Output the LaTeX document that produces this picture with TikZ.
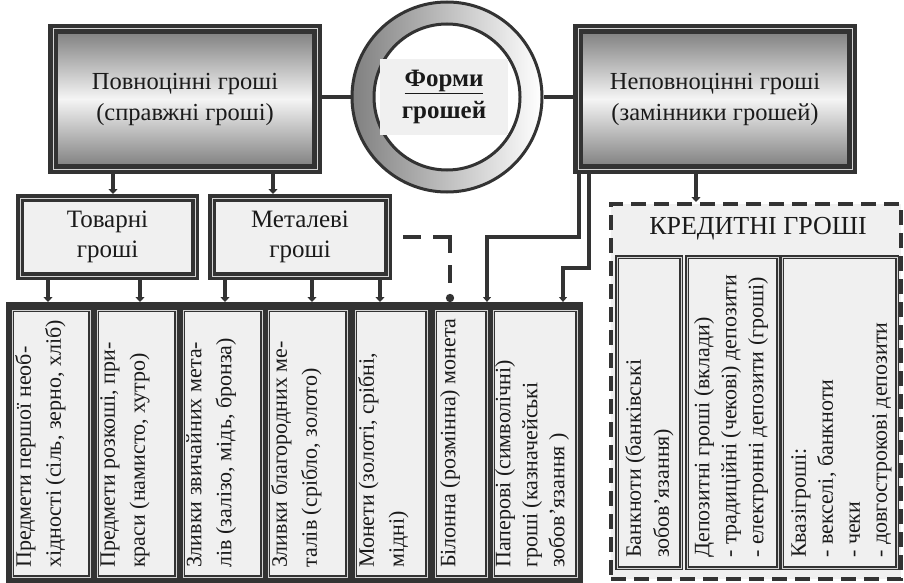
\documentclass[tikz,border=0pt]{standalone}
\usepackage{fontspec}
\setmainfont{Liberation Serif}
\usetikzlibrary{arrows.meta}
\definecolor{dk}{HTML}{333333}
\definecolor{lt}{HTML}{F0F0F0}
\definecolor{gr}{HTML}{7C7C7C}
\definecolor{txt}{HTML}{1A1A1A}
\definecolor{sepline}{HTML}{D4D4D4}
\begin{document}
\begin{tikzpicture}[x=1pt,y=-1pt,
  bigbox/.style={draw=dk,line width=4.5pt,double=sepline,double distance=1pt,
    top color=gr,bottom color=gr,middle color=white!96!black,
    minimum height=140pt,inner sep=0pt,outer sep=5pt,align=center,
    text=txt,font=\fontsize{24.5}{31}\selectfont},
  midbox/.style={draw=dk,line width=3.5pt,double=sepline,double distance=1pt,
    fill=lt,minimum height=78pt,minimum width=176pt,inner sep=0pt,outer sep=4pt,
    align=center,text=txt,font=\fontsize{25}{30}\selectfont},
  cellbox/.style={draw=dk,line width=1.4pt,double=sepline,double distance=0.8pt,
    fill=lt,inner sep=0pt,outer sep=0pt},
  rtext/.style={rotate=90,anchor=north west,align=left,inner sep=0pt,
    text=txt,font=\fontsize{22}{30}\selectfont},
  linkline/.style={draw=dk,line width=3.5pt},
  conn/.style={draw=dk,line width=4.5pt,-{Triangle[length=5pt,width=9pt]}},
  thinconn/.style={draw=dk,line width=3.2pt,-{Triangle[length=5pt,width=8pt]}},
  dashline/.style={draw=dk,line width=4pt,dash pattern=on 18pt off 12pt}
]
\useasboundingbox (0,0) rectangle (904,583);

% ---- bottom row ----
\node[fill=dk,minimum width=577pt,minimum height=281pt,inner sep=0pt,outer sep=0pt] (row) at (294.5,442.5) {};
\node[cellbox,minimum width=78pt,minimum height=267pt] (b1) at (51,443.5) {};
\node[cellbox,minimum width=79pt,minimum height=267pt] (b2) at (136.5,443.5) {};
\node[cellbox,minimum width=79pt,minimum height=267pt] (b3) at (222.5,443.5) {};
\node[cellbox,minimum width=79pt,minimum height=267pt] (b4) at (307.5,443.5) {};
\node[cellbox,minimum width=72pt,minimum height=267pt] (b5) at (391,443.5) {};
\node[cellbox,minimum width=52pt,minimum height=267pt] (b6) at (461,443.5) {};
\node[cellbox,minimum width=84pt,minimum height=267pt] (b7) at (535,443.5) {};

\node[rtext] (t1) at ([xshift=3pt,yshift=9pt]b1.south west) {Предмети першої необ-\\хідності (сіль, зерно, хліб)};
\node[rtext] (t2) at ([xshift=3pt,yshift=9pt]b2.south west) {Предмети розкоші, при-\\краси (намисто, хутро)};
\node[rtext] (t3) at ([xshift=3pt,yshift=9pt]b3.south west) {Зливки звичайних мета-\\лів (залізо, мідь, бронза)};
\node[rtext] (t4) at ([xshift=3pt,yshift=9pt]b4.south west) {Зливки благородних ме-\\талів (срібло, золото)};
\node[rtext] (t5) at ([xshift=3pt,yshift=9pt]b5.south west) {Монети (золоті, срібні,\\мідні)};
\node[rtext] (t6) at ([xshift=5pt,yshift=9pt]b6.south west) {Білонна (розмінна) монета};
\node[rtext,font=\fontsize{22}{27}\selectfont] (t7) at ([xshift=2pt,yshift=9pt]b7.south west) {Паперові (символічні)\\гроші (казначейські\\зобов’язання )};

% ---- credit money ----
\node[draw=dk,line width=4pt,dash pattern=on 15pt off 8pt,fill=lt,minimum width=290pt,minimum height=375pt,inner sep=0pt] (cred) at (756,391.5) {};
\node[text=txt,font=\fontsize{26}{30}\selectfont,inner sep=0pt] (ctitle) at (758,229) {КРЕДИТНІ ГРОШІ};
\node[cellbox,minimum width=64pt,minimum height=311pt] (c1) at (649,412.5) {};
\node[cellbox,minimum width=91pt,minimum height=311pt] (c2) at (732.5,412.5) {};
\node[cellbox,minimum width=115pt,minimum height=311pt] (c3) at (839.5,412.5) {};
\node[rtext,font=\fontsize{22}{28}\selectfont] (ct1) at ([xshift=8pt,yshift=10pt]c1.south west) {Банкноти (банківські\\зобов’язання)};
\node[rtext,font=\fontsize{22}{27}\selectfont] (ct2) at ([xshift=7pt,yshift=10pt]c2.south west) {Депозитні гроші (вклади)\\- традиційні (чекові) депозити\\- електронні депозити (гроші)};
\node[rtext,font=\fontsize{22}{27}\selectfont] (ct3) at ([xshift=9pt,yshift=10pt]c3.south west) {Квазігроші:\\- векселі, банкноти\\- чеки\\- довгострокові депозити};

% ---- top level ----
\node[bigbox,minimum width=264pt] (lb) at (185,99) {Повноцінні гроші\\(справжні гроші)};
\node[bigbox,minimum width=274pt] (rb) at (715,99) {Неповноцінні гроші\\(замінники грошей)};
\node[circle,draw=dk,line width=3pt,left color=black!50,right color=white,minimum size=190pt,inner sep=0pt] (forms) at (447,97) {};
\node[circle,draw=dk,line width=3pt,fill=white,minimum size=146pt,inner sep=0pt] (inner) at (447,97) {};
\node[fill=lt,minimum width=128pt,minimum height=75pt,inner sep=0pt,align=center,text=txt,font=\bfseries\fontsize{25}{32}\selectfont] (ftitle) at (444,97) {\underline{Форми}\\грошей};
\draw[linkline] (lb.east |- forms.west) -- (forms.west);
\draw[linkline] (forms.east) -- (forms.east -| rb.west);

\node[midbox,minimum width=175pt] (tov) at (107.5,237) {Товарні\\гроші};
\node[midbox] (met) at (300,237) {Металеві\\гроші};

% ---- connectors ----
\coordinate (u1) at (113,0);
\coordinate (u2) at (273,0);
\coordinate (u3) at (696,0);
\draw[conn] (lb.south -| u1) -- (tov.north -| u1);
\draw[conn] (lb.south -| u2) -- (met.north -| u2);
\draw[conn] (rb.south -| u3) -- (cred.north -| u3);

\coordinate (v1) at (48,0);
\coordinate (v2) at (140,0);
\coordinate (v3) at (225,0);
\coordinate (v4) at (312,0);
\coordinate (v5) at (380,0);
\draw[conn] (tov.south -| v1) -- (row.north -| v1);
\draw[conn] (tov.south -| v2) -- (row.north -| v2);
\draw[conn] (met.south -| v3) -- (row.north -| v3);
\draw[conn] (met.south -| v4) -- (row.north -| v4);
\draw[conn] (met.south -| v5) -- (row.north -| v5);

\coordinate (corner) at (450,237);
\draw[dashline,dash phase=19pt] (met.east) -- ([xshift=2pt]corner);
\draw[dashline,-{Circle[length=8pt]}] ([yshift=2pt]corner) -- (corner |- row.north);

\coordinate (ra) at (579,237);
\coordinate (pa) at (487,0);
\draw[thinconn] (rb.south -| ra) -- (ra) -- (ra -| pa) -- (pa |- row.north);
\coordinate (rc) at (589,268);
\coordinate (pc) at (563,0);
\draw[thinconn] (rb.south -| rc) -- (rc) -- (rc -| pc) -- (pc |- row.north);
\end{tikzpicture}
\end{document}
